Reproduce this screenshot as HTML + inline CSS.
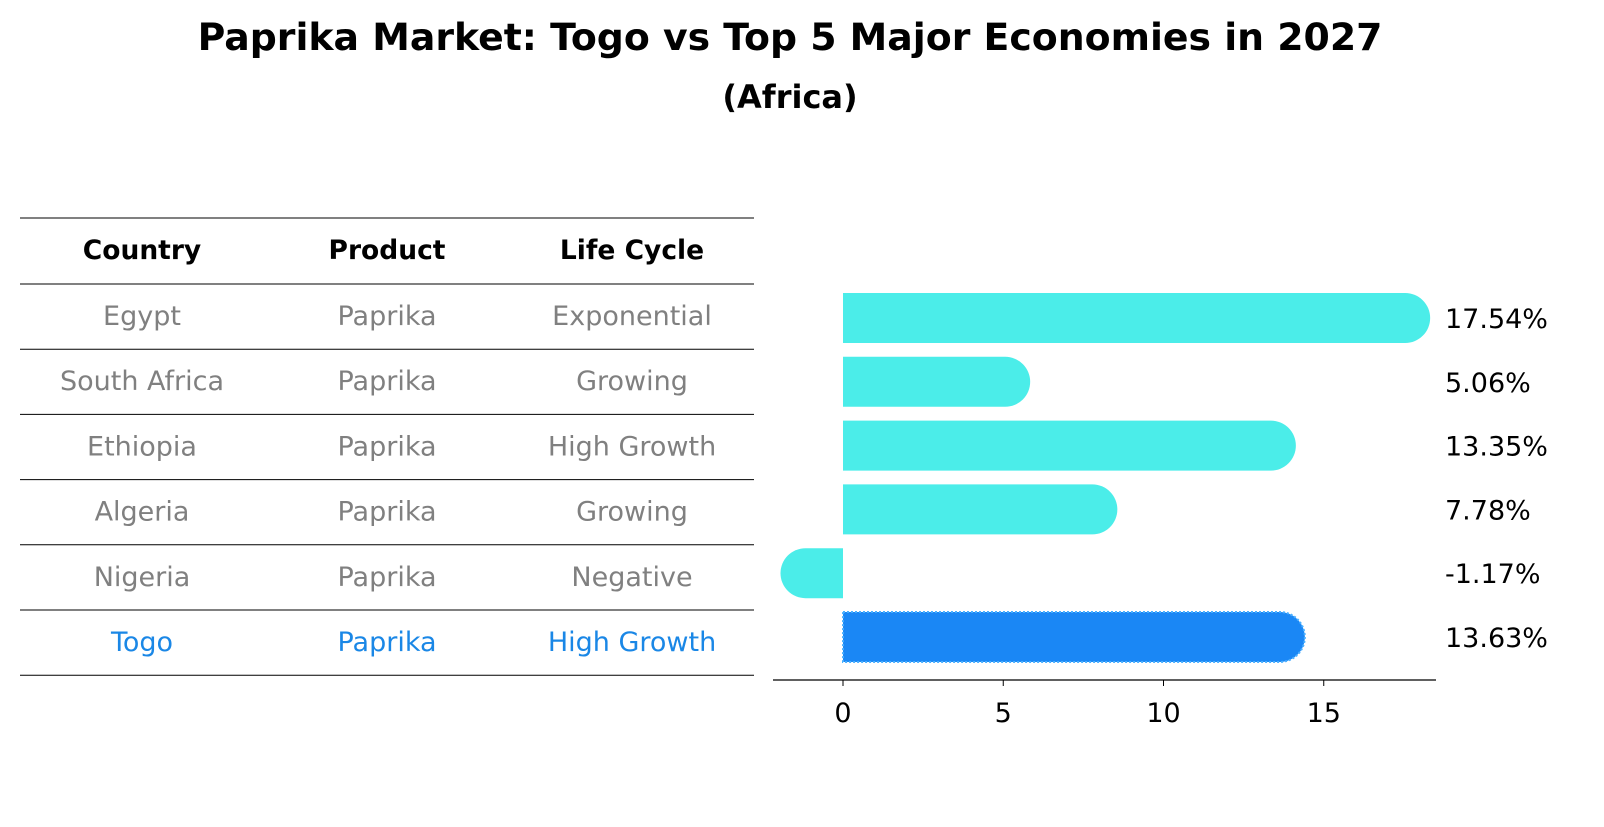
<!DOCTYPE html>
<html><head><meta charset="utf-8"><style>
body{margin:0;background:#fff;width:1604px;height:823px;overflow:hidden;font-family:"DejaVu Sans","Liberation Sans",sans-serif}
</style></head><body>
<svg width="1604" height="823" font-family="DejaVu Sans, Liberation Sans, sans-serif">
<text x="790" y="50" text-anchor="middle" font-size="37.8" font-weight="bold">Paprika Market: Togo vs Top 5 Major Economies in 2027</text>
<text x="790" y="108" text-anchor="middle" font-size="32" font-weight="bold">(Africa)</text>
<g id="table"></g>
<g id="bars"></g>
</svg>
<script>
const countries=["Egypt","South Africa","Ethiopia","Algeria","Nigeria","Togo"];
const products=["Paprika","Paprika","Paprika","Paprika","Paprika","Paprika"];
const stages=["Exponential","Growing","High Growth","Growing","Negative","High Growth"];
const values=[17.54,5.06,13.35,7.78,-1.17,13.63];
const ticks=[0,5,10,15];
const NS="http://www.w3.org/2000/svg";
function mk(t,a,p){const e=document.createElementNS(NS,t);for(const k in a)e.setAttribute(k,a[k]);p.appendChild(e);return e;}
const tbl=document.getElementById('table'),bars=document.getElementById('bars');
const rowY=i=>284+i*65.2;
const cols=[142,387,632];
const hl=mk('line',{x1:20,x2:754,y1:218,y2:218,stroke:'#000','stroke-width':1},tbl);


["Country","Product","Life Cycle"].forEach((h,j)=>{const t=mk('text',{x:cols[j],y:259,'text-anchor':'middle','font-size':26.5,'font-weight':'bold'},tbl);t.textContent=h;

});
for(let i=0;i<=countries.length;i++){const l=mk('line',{x1:20,x2:754,y1:rowY(i),y2:rowY(i),stroke:'#000','stroke-width':1},tbl);

}
countries.forEach((c,i)=>{const col=i==countries.length-1?'#1a87e6':'#808080';
[c,products[i],stages[i]].forEach((v,j)=>{const t=mk('text',{x:cols[j],y:rowY(i)+41,'text-anchor':'middle','font-size':27,fill:col},tbl);t.textContent=v;

});});
const x0=843,k=32.05;const X=v=>x0+v*k;
const r=25;
values.forEach((v,i)=>{const cy=318+i*63.8;const xv=X(v);const togo=i==values.length-1;
const dir=v>=0?1:-1;
const d=`M${x0},${cy-r} L${xv},${cy-r} A${r},${r} 0 0 ${dir>0?1:0} ${xv},${cy+r} L${x0},${cy+r} Z`;
const p=mk('path',{d:d,fill:togo?'#1a87f5':'#4bede9',stroke:togo?'#4bb0ff':'none','stroke-width':togo?2:0,'stroke-dasharray':'2,2'},bars);


const t=mk('text',{x:1445,y:cy+10,'font-size':27},bars);t.textContent=v.toFixed(2)+'%';

});
const ax=mk('line',{x1:773,x2:1436,y1:680,y2:680,stroke:'#000','stroke-width':1.2},bars);


ticks.forEach(tv=>{const tl=mk('line',{x1:X(tv),x2:X(tv),y1:680,y2:686,stroke:'#000'},bars);


const t=mk('text',{x:X(tv),y:722,'text-anchor':'middle','font-size':27},bars);t.textContent=tv;

});
</script>
</body></html>
